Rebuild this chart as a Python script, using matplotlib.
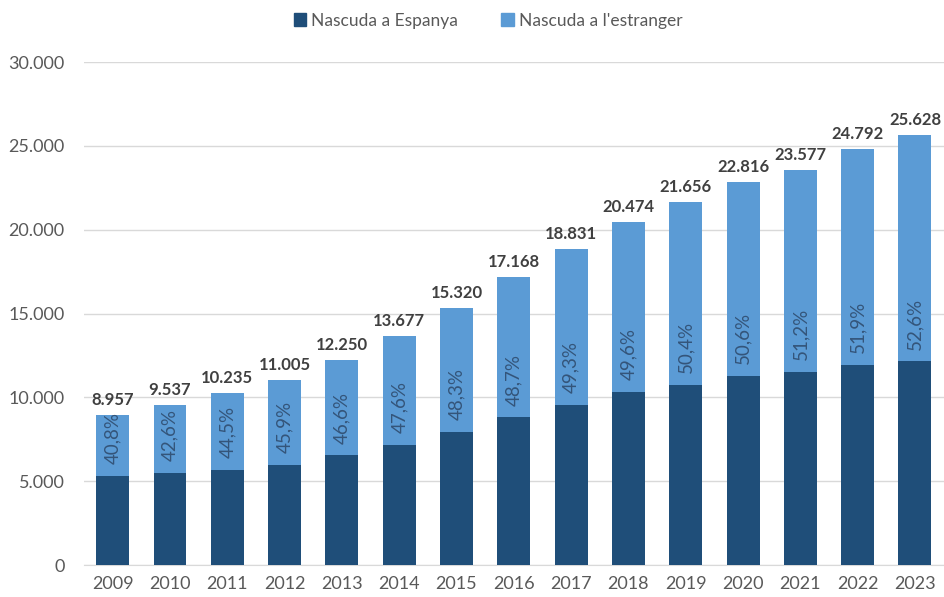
import matplotlib
matplotlib.use("Agg")
import matplotlib.pyplot as plt
from matplotlib.patches import Patch

years = ["2009", "2010", "2011", "2012", "2013", "2014", "2015", "2016",
         "2017", "2018", "2019", "2020", "2021", "2022", "2023"]
totals = [8957, 9537, 10235, 11005, 12250, 13677, 15320, 17168,
          18831, 20474, 21656, 22816, 23577, 24792, 25628]
pct_foreign = [40.8, 42.6, 44.5, 45.9, 46.6, 47.6, 48.3, 48.7,
               49.3, 49.6, 50.4, 50.6, 51.2, 51.9, 52.6]
series_names = ["Nascuda a Espanya", "Nascuda a l'estranger"]
yticks = [0, 5000, 10000, 15000, 20000, 25000, 30000]

spain = [t * (1 - p / 100) for t, p in zip(totals, pct_foreign)]
foreign = [t - s for t, s in zip(totals, spain)]

def fmt(v):
    return f"{int(round(v)):,}".replace(",", ".")

plt.rcParams['font.family'] = ['Lato', 'DejaVu Sans']

dark = "#1F4E79"
light = "#5B9BD5"

fig = plt.figure(figsize=(9.44, 5.97), dpi=100)
ax = fig.add_axes([0.089, 0.0536, 0.9106, 0.8425])
x = list(range(len(years)))
w = 0.575
ax.bar(x, spain, width=w, color=dark, zorder=3)
ax.bar(x, foreign, width=w, bottom=spain, color=light, zorder=3)

for i in x:
    ax.text(i, totals[i] + 420, fmt(totals[i]), ha="center", va="bottom",
            fontsize=12, fontweight="bold", color="#404040", zorder=4)
    ax.text(i, spain[i] + 700, f"{pct_foreign[i]:.1f}%".replace(".", ","),
            rotation=90, ha="center", va="bottom", fontsize=13.5,
            color="#34557A", zorder=4)

ax.set_xlim(-0.5, len(years) - 0.5)
ax.set_ylim(0, 30000)
ax.set_yticks(yticks)
ax.set_yticklabels([fmt(v) for v in yticks])
ax.set_xticks(x)
ax.set_xticklabels(years)
ax.tick_params(axis="both", length=0, labelsize=13, colors="#595959")
ax.tick_params(axis="y", pad=14)
ax.tick_params(axis="x", pad=8)
ax.grid(axis="y", color="#D9D9D9", linewidth=1, zorder=0)
for s in ["top", "right", "left"]:
    ax.spines[s].set_visible(False)
ax.spines["bottom"].set_color("#D9D9D9")

handles = [Patch(color=dark), Patch(color=light)]
fig.legend(handles, series_names, loc="upper center", bbox_to_anchor=(0.517, 1.005),
           ncol=2, frameon=False, fontsize=12.5, handlelength=0.7, handleheight=0.7,
           handletextpad=0.3, columnspacing=2.5, labelcolor="#595959")

fig.savefig("out.png", dpi=100)
